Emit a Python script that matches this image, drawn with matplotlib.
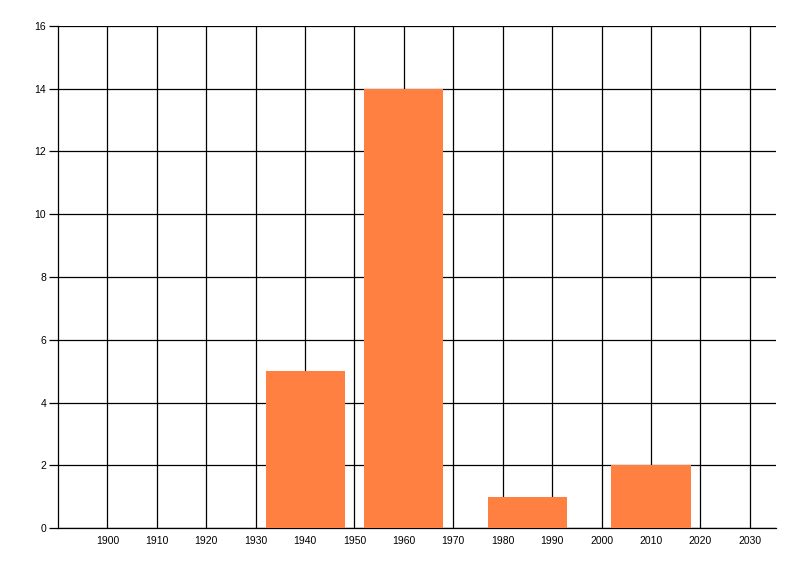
import matplotlib.pyplot as plt

years = [1940, 1960, 1985, 2010]
counts = [5, 14, 1, 2]
x_ticks = list(range(1900, 2031, 10))
y_ticks = list(range(0, 17, 2))

plt.rcParams['font.family'] = ['Liberation Sans', 'DejaVu Sans']

fig = plt.figure(figsize=(8, 5.76), dpi=100)
ax = fig.add_axes([0.0725, 0.0833, 0.8975, 0.8716])

ax.bar(years, counts, width=16, color='#FF8040', zorder=3)

ax.set_xlim(1890, 2035.3)
ax.set_ylim(0, 16)
ax.set_xticks(x_ticks)
ax.set_yticks(y_ticks)
ax.grid(True, color='black', linewidth=0.9, zorder=0)
ax.set_axisbelow(True)

for s in ['top', 'right']:
    ax.spines[s].set_visible(False)
for s in ['left', 'bottom']:
    ax.spines[s].set_linewidth(0.9)

ax.tick_params(axis='x', length=0, pad=6, labelsize=7.5)
ax.tick_params(axis='y', length=6.5, width=0.9, pad=2, labelsize=7.5)

fig.savefig('out.png', dpi=100, facecolor='white')
